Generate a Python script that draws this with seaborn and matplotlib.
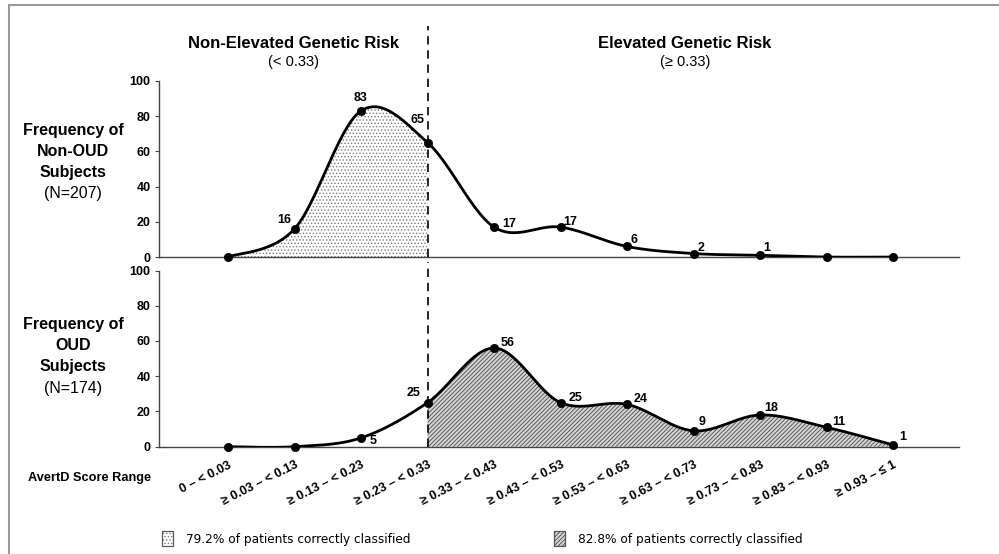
import numpy as np
import pandas as pd
import seaborn as sns
import matplotlib.pyplot as plt
from matplotlib.patches import Rectangle
from matplotlib.lines import Line2D

sns.set_style("white")
plt.rcParams['font.family'] = ['Liberation Sans', 'DejaVu Sans']
plt.rcParams['hatch.linewidth'] = 0.6
plt.rcParams['text.color'] = 'black'
plt.rcParams['xtick.color'] = 'black'
plt.rcParams['ytick.color'] = 'black'

# data
ranges = ["0 – < 0.03", "≥ 0.03 – < 0.13", "≥ 0.13 – < 0.23", "≥ 0.23 – < 0.33",
          "≥ 0.33 – < 0.43", "≥ 0.43 – < 0.53", "≥ 0.53 – < 0.63", "≥ 0.63 – < 0.73",
          "≥ 0.73 – < 0.83", "≥ 0.83 – < 0.93", "≥ 0.93 – ≤ 1"]
non_oud = [0, 16, 83, 65, 17, 17, 6, 2, 1, 0, 0]
oud = [0, 0, 5, 25, 56, 25, 24, 9, 18, 11, 1]

# label offsets in pixels (None = no label)
non_oud_off = [None, (-10, 9), (0, 13), (-10, 23), (15, 3), (10, 5), (7, 6), (7, 6), (7, 7), None, None]
oud_off = [None, None, (12, -3), (-14, 10), (14, 5), (15, 5), (14, 5), (8, 9), (11, 7), (12, 5), (10, 8)]

cutoff = 3


def smooth(y, n=30):
    # Catmull-Rom style smoothing like spreadsheet "smoothed line"
    y = np.asarray(y, float)
    x = np.arange(len(y), dtype=float)
    px = np.concatenate([[x[0]], x, [x[-1]]])
    py = np.concatenate([[y[0]], y, [y[-1]]])
    xs, ys = [], []
    t = np.linspace(0, 1, n)
    for i in range(len(y) - 1):
        p0x, p1x, p2x, p3x = px[i], px[i + 1], px[i + 2], px[i + 3]
        p0y, p1y, p2y, p3y = py[i], py[i + 1], py[i + 2], py[i + 3]
        c1x, c2x = p1x + (p2x - p0x) / 6, p2x - (p3x - p1x) / 6
        c1y, c2y = p1y + (p2y - p0y) / 6, p2y - (p3y - p1y) / 6
        bx = (1 - t) ** 3 * p1x + 3 * (1 - t) ** 2 * t * c1x + 3 * (1 - t) * t ** 2 * c2x + t ** 3 * p2x
        by = (1 - t) ** 3 * p1y + 3 * (1 - t) ** 2 * t * c1y + 3 * (1 - t) * t ** 2 * c2y + t ** 3 * p2y
        if i > 0:
            bx, by = bx[1:], by[1:]
        xs.append(bx)
        ys.append(by)
    return np.concatenate(xs), np.concatenate(ys)


fig = plt.figure(figsize=(9.99, 5.54), dpi=100)
ax1 = fig.add_axes([0.159, 0.536, 0.801, 0.318])
ax2 = fig.add_axes([0.159, 0.1937, 0.801, 0.318])

spine_col = "#444444"

for ax, vals, offs, side in [(ax1, non_oud, non_oud_off, "left"), (ax2, oud, oud_off, "right")]:
    df = pd.DataFrame({"x": np.arange(len(vals)), "y": vals})
    sx, sy = smooth(vals)
    if side == "left":
        m = sx <= cutoff + 1e-9
        ax.fill_between(sx[m], 0, sy[m], facecolor="white", edgecolor="#7a7a7a",
                        hatch=".....", linewidth=0, zorder=1)
    else:
        m = sx >= cutoff - 1e-9
        ax.fill_between(sx[m], 0, sy[m], facecolor="#d4d4d4", edgecolor="#4a4a4a",
                        hatch="////////", linewidth=0, zorder=1)
    sns.lineplot(x=sx, y=sy, sort=False, estimator=None, color="black", lw=2, ax=ax, zorder=3)
    sns.scatterplot(data=df, x="x", y="y", color="black", s=36, edgecolor="black",
                    ax=ax, zorder=4, clip_on=False)
    for i, (v, o) in enumerate(zip(vals, offs)):
        if o is None:
            continue
        ax.annotate(str(v), (i, v), xytext=o, textcoords="offset pixels",
                    ha="center", va="center", fontsize=9, fontweight="bold")
    ax.set_xlim(-1.04, 10.99)
    ax.set_ylim(0, 100)
    ax.set_yticks([0, 20, 40, 60, 80, 100])
    ax.set_yticklabels([str(t) for t in [0, 20, 40, 60, 80, 100]], fontsize=9, fontweight="bold")
    ax.tick_params(axis="y", length=3, width=0.8, color=spine_col, pad=3, left=True)
    ax.set_xlabel("")
    ax.set_ylabel("")
    for s in ["top", "right"]:
        ax.spines[s].set_visible(False)
    for s in ["left", "bottom"]:
        ax.spines[s].set_color(spine_col)
        ax.spines[s].set_linewidth(1.0)
    ax.set_facecolor("none")

ax1.set_xticks([])
ax2.set_xticks(range(len(ranges)))
ax2.set_xticklabels(ranges, rotation=27, ha="right", va="top", rotation_mode="anchor",
                    fontsize=9, fontweight="bold")
ax2.tick_params(axis="x", length=0, pad=9)

# dashed cut-off line across both panels
ax1.axvline(cutoff, ymin=0, ymax=1.31, color="black", lw=1.2, ls=(0, (5, 3.5)), clip_on=False, zorder=5)
ax2.axvline(cutoff, ymin=0, ymax=1.05, color="black", lw=1.2, ls=(0, (5, 3.5)), clip_on=False, zorder=5)

# headings
W, H = 999, 554
def fx(px):
    return px / W
def fy(py):
    return 1 - py / H

fig.text(fx(293), fy(43), "Non-Elevated Genetic Risk", ha="center", va="center", fontsize=12, fontweight="bold")
fig.text(fx(293), fy(62), "(< 0.33)", ha="center", va="center", fontsize=10.5)
fig.text(fx(685), fy(43), "Elevated Genetic Risk", ha="center", va="center", fontsize=12, fontweight="bold")
fig.text(fx(685), fy(62), "(≥ 0.33)", ha="center", va="center", fontsize=10.5)

for lines, y0 in [(["Frequency of", "Non-OUD", "Subjects"], 130), (["Frequency of", "OUD", "Subjects"], 325)]:
    for k, t in enumerate(lines):
        fig.text(fx(73), fy(y0 + 21 * k), t, ha="center", va="center", fontsize=11.5, fontweight="bold")
fig.text(fx(73), fy(193), "(N=207)", ha="center", va="center", fontsize=11.5)
fig.text(fx(73), fy(388), "(N=174)", ha="center", va="center", fontsize=11.5)

fig.text(fx(28), fy(478), "AvertD Score Range", ha="left", va="center", fontsize=9.2,
         fontweight="bold")

# legend boxes
for x0, hatch, fc, ec, label in [(162, ".....", "white", "#7a7a7a", "79.2% of patients correctly classified"),
                                 (554, "////////", "#d4d4d4", "#4a4a4a", "82.8% of patients correctly classified")]:
    fig.patches.append(Rectangle((fx(x0), fy(546)), 11 / W, 15 / H, transform=fig.transFigure,
                                 facecolor=fc, edgecolor=ec, hatch=hatch, lw=0.8))
    fig.patches.append(Rectangle((fx(x0), fy(546)), 11 / W, 15 / H, transform=fig.transFigure,
                                 facecolor="none", edgecolor="#555555", lw=0.8))
    fig.text(fx(x0 + 24), fy(539), label, ha="left", va="center", fontsize=8.7, family="DejaVu Sans")

# frame lines of the original figure
fig.add_artist(Line2D([fx(9), 1], [fy(5), fy(5)], transform=fig.transFigure, color="#999999", lw=1.5))
fig.add_artist(Line2D([fx(9), fx(9)], [fy(5), 0], transform=fig.transFigure, color="#999999", lw=1.5))

fig.savefig("out.png", dpi=100)
